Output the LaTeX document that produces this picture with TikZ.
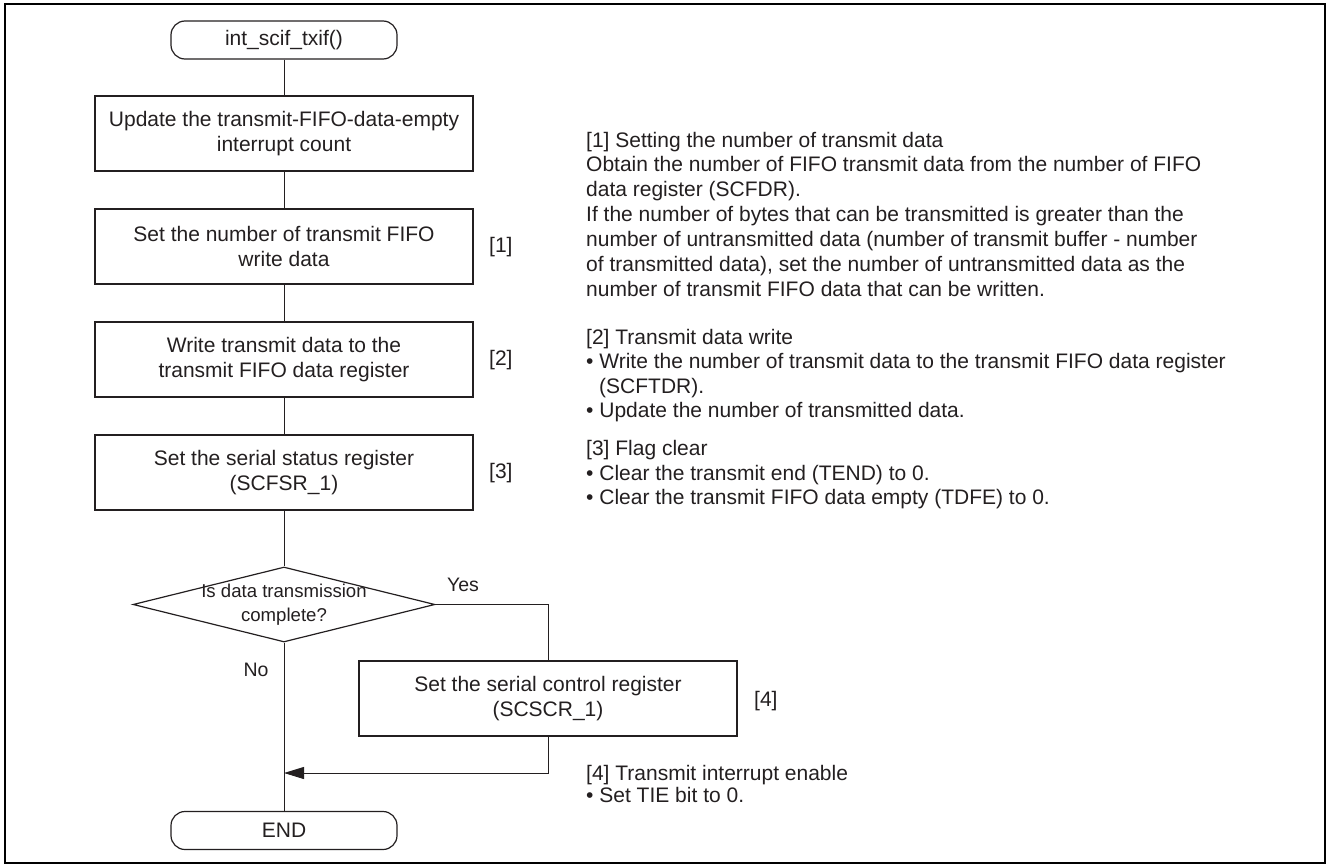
\documentclass[tikz,border=0pt]{standalone}
\usepackage{fontspec}
\setmainfont{Liberation Sans}
\usetikzlibrary{shapes.geometric,arrows.meta}
\definecolor{ink}{RGB}{35,31,32}
\begin{document}
\begin{tikzpicture}[x=1pt,y=-1pt,
  every node/.style={text=ink},
  proc/.style={draw=ink,line width=1.3pt,minimum width=378pt,minimum height=75pt,inner sep=0pt,align=center,font=\fontsize{21}{24.5}\selectfont},
  term/.style={draw=ink,line width=1.2pt,rounded corners=14pt,minimum width=226pt,minimum height=38pt,inner sep=0pt,font=\fontsize{21}{24.5}\selectfont},
  decision/.style={draw=ink,line width=1.2pt,diamond,minimum width=302pt,minimum height=75pt,inner sep=0pt},
  flow/.style={draw=ink,line width=1pt},
  note/.style={anchor=base west,inner sep=0pt,font=\fontsize{21}{25}\selectfont},
  tag/.style={anchor=west,inner sep=0pt,font=\fontsize{21}{25}\selectfont},
  small/.style={inner sep=0pt,align=center,font=\fontsize{18.6}{24}\selectfont},
  branch/.style={inner sep=0pt,font=\fontsize{19.5}{24}\selectfont}]
\useasboundingbox (0,0) rectangle (1328,864);
\draw[line width=2.2pt] (5,4) rectangle (1325,863);

% flow nodes
\node[term] (start) at (284,40) {int\_scif\_txif()};
\node[proc] (b1) at (284,133.5) {Update the transmit-FIFO-data-empty\\interrupt count};
\node[proc] (b2) at (284,246.5) {Set the number of transmit FIFO\\write data};
\node[proc] (b3) at (284,359.5) {Write transmit data to the\\transmit FIFO data register};
\node[proc] (b4) at (284,472.5) {Set the serial status register\\(SCFSR\_1)};
\node[decision] (dec) at (284,604.5) {};
\node[small] (dectext) at (284,605) {Is data transmission\\complete?};
\node[proc] (b5) at (548,698.5) {Set the serial control register\\(SCSCR\_1)};
\node[term] (end) at (284,830.5) {END};
\coordinate (join) at (284,773);

% connectors
\draw[flow] (start.south) -- (b1.north);
\draw[flow] (b1.south) -- (b2.north);
\draw[flow] (b2.south) -- (b3.north);
\draw[flow] (b3.south) -- (b4.north);
\draw[flow] (b4.south) -- (dec.north);
\draw[flow] (dec.south) -- (end.north);
\draw[flow] (dec.east) -| (b5.north);
\draw[flow,-{Triangle[length=20pt,width=12pt]}] (b5.south) |- (join);

% branch labels
\node[branch] (yes) at (463,585) {Yes};
\node[branch] (no) at (256,670) {No};

% step tags
\node[tag] (t1) at (489,247) {[1]};
\node[tag] (t2) at (489,360) {[2]};
\node[tag] (t3) at (489,473) {[3]};
\node[tag] (t4) at (754,701) {[4]};

% notes [1]
\node[note] (n11) at (586,147) {[1] Setting the number of transmit data};
\node[note] (n12) at (586,171.5) {Obtain the number of FIFO transmit data from the number of FIFO};
\node[note] (n13) at (586,196) {data register (SCFDR).};
\node[note] (n14) at (586,221) {If the number of bytes that can be transmitted is greater than the};
\node[note] (n15) at (586,246) {number of untransmitted data (number of transmit buffer - number};
\node[note] (n16) at (586,271) {of transmitted data), set the number of untransmitted data as the};
\node[note] (n17) at (586,296) {number of transmit FIFO data that can be written.};
% notes [2]
\node[note] (n21) at (586,344) {[2] Transmit data write};
\node[note] (n22) at (586,368) {• Write the number of transmit data to the transmit FIFO data register};
\node[note] (n23) at (599,393) {(SCFTDR).};
\node[note] (n24) at (586,417) {• Update the number of transmitted data.};
% notes [3]
\node[note] (n31) at (586,455) {[3] Flag clear};
\node[note] (n32) at (586,480) {• Clear the transmit end (TEND) to 0.};
\node[note] (n33) at (586,504) {• Clear the transmit FIFO data empty (TDFE) to 0.};
% notes [4]
\node[note] (n41) at (586,780) {[4] Transmit interrupt enable};
\node[note] (n42) at (586,802) {• Set TIE bit to 0.};
\end{tikzpicture}
\end{document}
